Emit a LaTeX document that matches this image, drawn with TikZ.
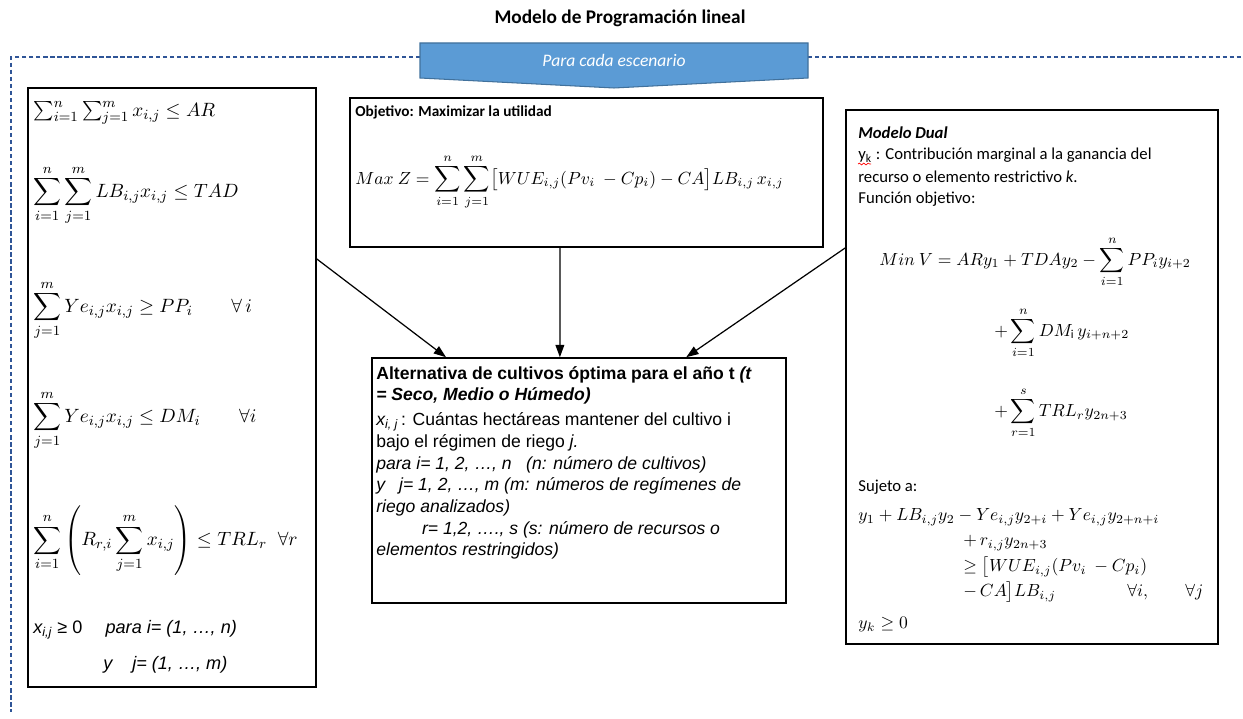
\documentclass[tikz,border=0pt]{standalone}
\usepackage{amsmath,amssymb}
\usepackage{fontspec}
\setmainfont{Carlito}
\newfontfamily\arial{Liberation Sans}
\usetikzlibrary{positioning, arrows.meta, calc, fit, decorations.pathmorphing}
\definecolor{azulmarco}{HTML}{2F5597}
\definecolor{azulbanda}{HTML}{5B9BD5}
\definecolor{azulborde}{HTML}{41719C}
\tikzset{
  caja/.style={draw, line width=0.9pt, inner sep=0pt},
  flecha/.style={-{Triangle[length=7pt,width=5pt]}, line width=0.7pt},
  marco/.style={azulmarco, dash pattern=on 2.5pt off 1.5pt, line width=0.9pt},
  formula/.style={anchor=west, inner sep=0pt, font=\fontsize{11}{13}\selectfont},
  formulader/.style={anchor=west, inner sep=0pt, font=\fontsize{9.8}{12}\selectfont},
  textoizq/.style={anchor=west, inner sep=0pt, font=\arial\fontsize{10.3}{12}\selectfont},
  textoder/.style={anchor=west, inner sep=0pt, font=\fontsize{9.5}{12}\selectfont},
}
\begin{document}
\begin{tikzpicture}[x=0.02cm, y=-0.02cm]
\useasboundingbox (0,0) rectangle (1243,719);
% Titulo
\node[font=\bfseries\fontsize{11}{13}\selectfont] (titulo) at (620,18) {Modelo de Programación lineal};
% Marco discontinuo
\draw[marco] (420,57) -- (11,57) -- (11,712);
\draw[marco] (808,57) -- (1243,57);
% Banda azul
\draw[fill=azulbanda, draw=azulborde, line width=0.6pt] (420,43) -- (808,43) -- (808,78) -- (614,88) -- (420,78) -- cycle;
\node[text=white, font=\itshape\fontsize{10}{12}\selectfont] (escenario) at (614,60) {Para cada escenario};
% Cajas
\node[caja, fit={(28,88) (316,687)}] (restric) {};
\node[caja, fit={(350,98) (823,247)}] (objetivo) {};
\node[caja, fit={(372,358) (786,603)}] (alternativa) {};
\node[caja, fit={(846,110) (1218,644)}] (dual) {};
% Restricciones (caja izquierda)
\node[formula] (r1) at (33,113) {$\sum_{i=1}^{n}\sum_{j=1}^{m} x_{i,j} \leq AR$};
\node[formula] (r2) at (33,195) {$\displaystyle\sum_{i=1}^{n}\sum_{j=1}^{m} LB_{i,j}x_{i,j} \leq TAD$};
\node[formula] (r3) at (33,310) {$\displaystyle\sum_{j=1}^{m} Ye_{i,j}x_{i,j} \geq PP_i \qquad \forall\, i$};
\node[formula] (r4) at (33,420) {$\displaystyle\sum_{j=1}^{m} Ye_{i,j}x_{i,j} \leq DM_i \qquad \forall i$};
\node[formula] (r5) at (33,541) {$\displaystyle\sum_{i=1}^{n}\left(R_{r,i}\sum_{j=1}^{m} x_{i,j}\right) \leq TRL_r \;\; \forall r$};
\node[textoizq] (r6) at (33,630) {\textit{x\textsubscript{i,j}} ≥ 0 \quad \textit{para i= (1, …, n)}};
\node[textoizq] (r7) at (103,665) {\textit{y\hspace{1.1em}j= (1, …, m)}};
% Funcion objetivo (caja central)
\node[anchor=west, inner sep=0pt, font=\bfseries\fontsize{8.7}{11}\selectfont] (objtit) at (355,112) {Objetivo: Maximizar la utilidad};
\node[formula, font=\fontsize{10.4}{12}\selectfont] (objf) at (355,182) {$Max\ Z = \displaystyle\sum_{i=1}^{n}\sum_{j=1}^{m}\bigl[WUE_{i,j}(Pv_i\ - Cp_i) - CA\bigr]LB_{i,j}\,x_{i,j}$};
% Resultado
\node[anchor=north west, inner sep=0pt, align=left, font=\arial\fontsize{10}{12.3}\selectfont] (alttxt) at (376,366) {%
\textbf{Alternativa de cultivos óptima para el año t \textit{(t}}\\
\textbf{\textit{= Seco, Medio o Húmedo)}}\\[2pt]
\textit{x\textsubscript{i, j}}\,: Cuántas hectáreas mantener del cultivo i\\
bajo el régimen de riego \textit{j.}\\
\textit{para i= 1, 2, …, n \ \ (n: número de cultivos)}\\
\textit{y\hspace{0.8em}j= 1, 2, …, m (m: números de regímenes de}\\
\textit{riego analizados)}\\
\textit{\hspace{2.6em}r= 1,2, …., s (s: número de recursos o}\\
\textit{elementos restringidos)}};
% Modelo dual (caja derecha)
\node[textoder] (dualtit) at (858,133) {\textbf{\textit{Modelo Dual}}};
\node[textoder] (yk) at (858,155) {y\textsubscript{k} : Contribución marginal a la ganancia del};
\draw[red, decorate, decoration={snake, amplitude=0.5pt, segment length=2.5pt}] (858,164) -- (871,164);
\node[textoder] (rec) at (858,177) {recurso o elemento restrictivo \textit{k}.};
\node[textoder] (fobj) at (858,199) {Función objetivo:};
\node[formulader] (minv) at (879,262) {$Min\ V = ARy_1 + TDAy_2 - \displaystyle\sum_{i=1}^{n} PP_i y_{i+2}$};
\node[formulader] (dm) at (994,333) {$+ \displaystyle\sum_{i=1}^{n} DM_{\mathrm{i}}\, y_{i+n+2}$};
\node[formulader] (trl) at (994,413) {$+ \displaystyle\sum_{r=1}^{s} TRL_r y_{2n+3}$};
\node[textoder] (suj) at (858,487) {Sujeto a:};
\node[formulader] (s1) at (858,517) {$y_1 + LB_{i,j}y_2 - Ye_{i,j}y_{2+i} + Ye_{i,j}y_{2+n+i}$};
\node[formulader] (s2) at (963,543) {$+\, r_{i,j}y_{2n+3}$};
\node[formulader] (s3) at (963,567) {$\geq \bigl[WUE_{i,j}(Pv_i\ - Cp_i)$};
\node[formulader] (s4) at (963,592) {$-\, CA\bigr]LB_{i,j}$};
\node[formulader] (s5) at (1127,592) {$\forall i, \qquad \forall j$};
\node[formulader] (s6) at (858,625) {$y_k \geq 0$};
% Flechas
\draw[flecha] ($(restric.north east)!0.286!(restric.south east)$) -- ($(alternativa.north west)!0.18!(alternativa.north east)$);
\draw[flecha] ($(objetivo.south west)!0.444!(objetivo.south east)$) -- ($(alternativa.north west)!0.454!(alternativa.north east)$);
\draw[flecha] ($(dual.north west)!0.259!(dual.south west)$) -- ($(alternativa.north west)!0.758!(alternativa.north east)$);
\end{tikzpicture}
\end{document}
